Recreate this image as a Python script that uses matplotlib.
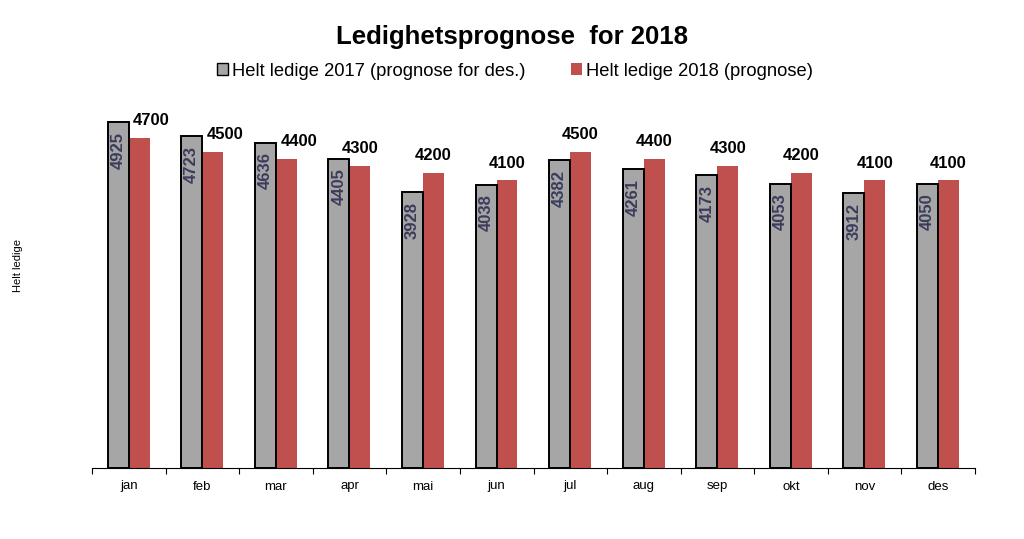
import numpy as np
import matplotlib
matplotlib.use("Agg")
from matplotlib import pyplot as plt
from matplotlib.patches import Patch

plt.rcParams['font.family'] = ['Liberation Sans', 'DejaVu Sans']

months = ["jan", "feb", "mar", "apr", "mai", "jun", "jul", "aug", "sep", "okt", "nov", "des"]
ledige_2017 = [4925, 4723, 4636, 4405, 3928, 4038, 4382, 4261, 4173, 4053, 3912, 4050]
ledige_2018 = [4700, 4500, 4400, 4300, 4200, 4100, 4500, 4400, 4300, 4200, 4100, 4100]
label_2017 = "Helt ledige 2017 (prognose for des.)"
label_2018 = "Helt ledige 2018 (prognose)"

gray = "#a6a6a6"
red = "#c0504d"

fig = plt.figure(figsize=(10.24, 5.39), dpi=100)
ax = fig.add_axes([92/1024, 71/539, 883/1024, 372/539])

x = np.arange(len(months))
w = 0.285
ax.bar(x - 0.145, ledige_2017, w, color=gray, edgecolor="black", linewidth=1.4, zorder=3)
ax.bar(x + 0.14, ledige_2018, w, color=red, edgecolor="none", zorder=2)

for xi, v in zip(x - 0.145, ledige_2017):
    ax.annotate(str(v), (xi, v), xytext=(0, -7), textcoords="offset points",
                ha="center", va="top", rotation=90, fontsize=12, fontweight="bold",
                color="#3b3b5c", zorder=4)
for xi, v, g in zip(x + 0.14, ledige_2018, ledige_2017):
    # label moved aside where the grey bar would hit it
    dx = 9 if g - v > 150 else 0
    ax.annotate(str(v), (xi, v), xytext=(dx, 7), textcoords="offset points",
                ha="center", va="bottom", fontsize=12, fontweight="bold", color="black")

ax.set_xlim(-0.5, len(months) - 0.5)
ax.set_ylim(0, 5300)
ax.set_xticks(x)
ax.set_xticklabels(months, fontsize=9.5)
ax.tick_params(axis="x", which="major", length=0, pad=9)
ax.set_xticks(np.arange(-0.5, len(months)), minor=True)
ax.tick_params(axis="x", which="minor", length=4, width=0.8, direction="out")
ax.set_yticks([])
for s in ["top", "right", "left"]:
    ax.spines[s].set_visible(False)
ax.spines["bottom"].set_linewidth(0.8)

fig.text(18/1024, 1 - 265/539, "Helt ledige", rotation=90, fontsize=8, ha="center", va="center")
fig.text(0.5, 1 - 37/539, "Ledighetsprognose  for 2018", fontsize=18.5, fontweight="bold",
         ha="center", va="center")

handles = [Patch(facecolor=gray, edgecolor="black", linewidth=1.0, label=label_2017),
           Patch(facecolor=red, edgecolor="none", label=label_2018)]
fig.legend(handles=handles, loc="center", bbox_to_anchor=(0.503, 1 - 71/539), ncol=2,
           frameon=False, fontsize=13.2, handlelength=0.6, handleheight=0.6,
           handletextpad=0.2, columnspacing=2.5)

fig.savefig("out.png", dpi=100)
